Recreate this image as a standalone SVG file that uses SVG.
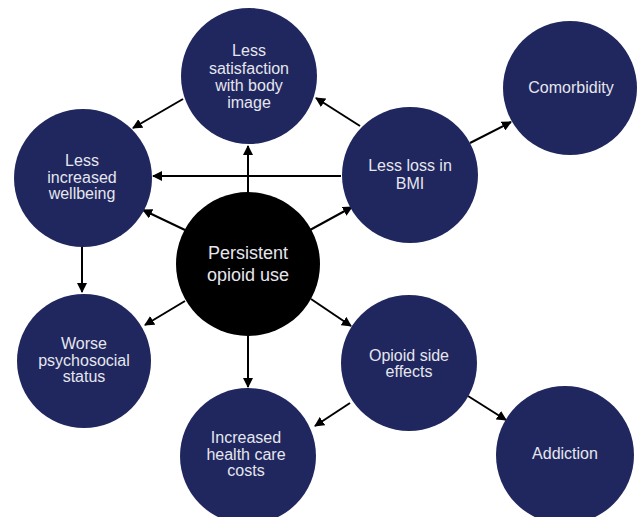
<svg xmlns="http://www.w3.org/2000/svg" width="638" height="517" viewBox="0 0 638 517">
<defs>
<style>
.n{fill:#1f275e}
.c{fill:#000}
text{font-family:"Liberation Sans",Arial,sans-serif;font-size:16px;fill:#e6e6ee;text-anchor:middle}
.big{font-size:18px}
.e{stroke:#000;stroke-width:2;fill:none;marker-end:url(#ah)}
</style>
<marker id="ah" viewBox="0 0 10 10" refX="9" refY="5" markerWidth="5" markerHeight="5" orient="auto" markerUnits="strokeWidth">
<path d="M0,0 L10,5 L0,10 z" fill="#000"/>
</marker>
</defs>
<rect width="638" height="517" fill="#fff"/>
<g id="connectors">
<line class="e" x1="248" y1="193" x2="248" y2="146"/>
<line class="e" x1="341" y1="176" x2="153" y2="176"/>
<line class="e" x1="183" y1="99" x2="133" y2="128"/>
<line class="e" x1="360" y1="126" x2="316" y2="98"/>
<line class="e" x1="470" y1="143" x2="511" y2="122"/>
<line class="e" x1="185" y1="230" x2="143" y2="210"/>
<line class="e" x1="310" y1="230" x2="352" y2="207"/>
<line class="e" x1="82" y1="245" x2="82" y2="292"/>
<line class="e" x1="185" y1="301" x2="145" y2="325"/>
<line class="e" x1="248" y1="336" x2="248" y2="387"/>
<line class="e" x1="311" y1="299" x2="351" y2="326"/>
<line class="e" x1="350" y1="403" x2="315" y2="426"/>
<line class="e" x1="468" y1="396" x2="506" y2="420"/>
</g>
<g id="body-image"><circle class="n" cx="249" cy="76" r="68"/><text x="249" y="56">Less</text><text x="249" y="74">satisfaction</text><text x="249" y="91">with body</text><text x="249" y="108">image</text></g>
<g id="comorbidity"><circle class="n" cx="570" cy="88" r="67"/><text x="571" y="93">Comorbidity</text></g>
<g id="wellbeing"><circle class="n" cx="83" cy="178" r="69"/><text x="82" y="166">Less</text><text x="82" y="183">increased</text><text x="82" y="199">wellbeing</text></g>
<g id="bmi"><circle class="n" cx="410" cy="175" r="68"/><text x="410" y="171">Less loss in</text><text x="410" y="189">BMI</text></g>
<g id="persistent"><circle class="c" cx="248" cy="264" r="72"/><text class="big" x="248" y="259">Persistent</text><text class="big" x="248" y="281">opioid use</text></g>
<g id="psychosocial"><circle class="n" cx="84" cy="361" r="67"/><text x="84" y="349">Worse</text><text x="84" y="366">psychosocial</text><text x="84" y="382">status</text></g>
<g id="side-effects"><circle class="n" cx="409" cy="363" r="68"/><text x="409" y="361">Opioid side</text><text x="409" y="377">effects</text></g>
<g id="health-costs"><circle class="n" cx="248" cy="456" r="68"/><text x="246" y="443">Increased</text><text x="246" y="460">health care</text><text x="246" y="476">costs</text></g>
<g id="addiction"><circle class="n" cx="565" cy="455" r="69"/><text x="565" y="459">Addiction</text></g>
</svg>
